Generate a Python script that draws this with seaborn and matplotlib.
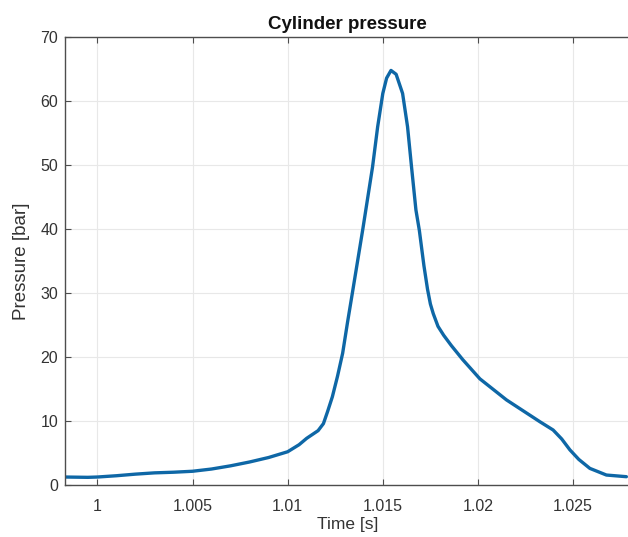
import matplotlib
matplotlib.use("Agg")
import matplotlib.pyplot as plt
import seaborn as sns
import pandas as pd

time_s = [0.9983, 0.9995, 1.0000, 1.0010, 1.0020, 1.0030, 1.0040, 1.0050, 1.0060,
          1.0070, 1.0080, 1.0090, 1.0100, 1.0106, 1.0110, 1.01135, 1.0116, 1.01188,
          1.0121, 1.01235, 1.01262, 1.01289, 1.01315, 1.0134, 1.01395, 1.01446,
          1.01473, 1.0150, 1.0152, 1.01543, 1.0157, 1.01604, 1.0163, 1.01651,
          1.01674, 1.01692, 1.01716, 1.01735, 1.0175, 1.01765, 1.0179, 1.0182,
          1.0186, 1.0192, 1.0201, 1.0215, 1.02325, 1.02395, 1.0244, 1.02483,
          1.0253, 1.02588, 1.02675, 1.0278]
pressure_bar = [1.25, 1.2, 1.25, 1.45, 1.7, 1.9, 2.0, 2.15, 2.5,
                3.0, 3.6, 4.3, 5.2, 6.3, 7.3, 8.0, 8.5, 9.6,
                11.5, 13.8, 17.0, 20.6, 25.5, 30.0, 40.0, 49.7,
                56.0, 61.2, 63.6, 64.8, 64.2, 61.2, 56.0, 49.7,
                43.0, 39.8, 34.3, 30.6, 28.3, 26.8, 24.8, 23.4,
                21.8, 19.6, 16.6, 13.3, 9.9, 8.6, 7.2, 5.5,
                4.0, 2.6, 1.56, 1.3]
x_ticks = [1.0, 1.005, 1.01, 1.015, 1.02, 1.025]
x_tick_labels = ["1", "1.005", "1.01", "1.015", "1.02", "1.025"]
y_ticks = [0, 10, 20, 30, 40, 50, 60, 70]

df = pd.DataFrame({"t": time_s, "p": pressure_bar})

sns.set_theme(style="white")
plt.rcParams["font.family"] = ["Liberation Sans", "DejaVu Sans"]

fig = plt.figure(figsize=(6.28, 5.37), dpi=100)
ax = fig.add_axes([0.1035, 0.0968, 0.9, 0.834])

sns.lineplot(data=df, x="t", y="p", ax=ax, estimator=None, sort=False,
             color="#0e67a6", linewidth=2.4)

ax.set_xlim(0.9983, 1.0280)
ax.set_ylim(0, 70)
ax.set_xticks(x_ticks)
ax.set_xticklabels(x_tick_labels)
ax.set_yticks(y_ticks)
ax.grid(True, color="#e8e8e8", linewidth=0.8)
ax.set_axisbelow(True)

for side in ["left", "bottom", "top"]:
    ax.spines[side].set_color("#4d4d4d")
    ax.spines[side].set_linewidth(1.0)
ax.spines["right"].set_visible(False)

ax.tick_params(axis="both", which="both", direction="in", length=4, width=0.8,
               color="#4d4d4d", labelcolor="#333333", labelsize=11.5,
               top=True, bottom=True, left=True, right=False)
ax.tick_params(axis="x", pad=10)
ax.tick_params(axis="y", pad=5)

ax.set_xlabel("Time [s]", fontsize=12.5, color="#333333", labelpad=2)
ax.set_ylabel("Pressure [bar]", fontsize=13.5, color="#333333", labelpad=7)
ax.set_title("Cylinder pressure", fontsize=13.5, fontweight="bold", color="#111111", pad=6)

fig.savefig("out.png", dpi=100)
